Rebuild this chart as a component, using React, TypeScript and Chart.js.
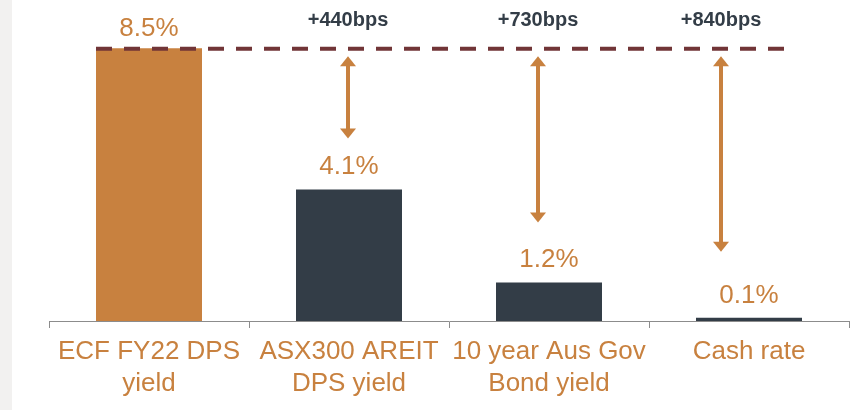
import React, { useEffect, useRef } from "react";
import { Chart, registerables } from "chart.js";

Chart.register(...registerables);

const categories: string[][] = [
  ["ECF FY22 DPS", "yield"],
  ["ASX300 AREIT", "DPS yield"],
  ["10 year Aus Gov", "Bond yield"],
  ["Cash rate"],
];
const values: number[] = [8.5, 4.1, 1.2, 0.1];
const valueLabels: string[] = ["8.5%", "4.1%", "1.2%", "0.1%"];
const spreadLabels: string[] = ["", "+440bps", "+730bps", "+840bps"];
const referenceValue = 8.5;
const yMin = 0;
const yMax = 10;

const ORANGE = "#c8813f";
const DARK = "#333d47";
const MAROON = "#713537";
const FONT = "'Liberation Sans', Arial, sans-serif";

// styling constants for annotations (pixels)
const arrowXOffset = [0, -1, -11, -28];
const arrowBottomGap = [0, 51, 60, 66];

const annotations = {
  id: "annotations",
  afterDatasetsDraw(chart: any) {
    const ctx = chart.ctx;
    const xs = chart.scales.x;
    const ys = chart.scales.y;
    const meta = chart.getDatasetMeta(0);
    const refY = ys.getPixelForValue(referenceValue);
    ctx.save();

    // value labels
    ctx.fillStyle = ORANGE;
    ctx.font = `26px ${FONT}`;
    ctx.textAlign = "center";
    ctx.textBaseline = "alphabetic";
    meta.data.forEach((bar: any, i: number) => {
      ctx.fillText(valueLabels[i], bar.x, bar.y - (i === 0 ? 12 : 15));
    });

    // dashed reference line
    const first = meta.data[0];
    const x0 = first.x - first.width / 2;
    const x1 = xs.getPixelForValue(values.length - 1) + 40;
    ctx.strokeStyle = MAROON;
    ctx.lineWidth = 4;
    ctx.setLineDash([16, 12]);
    ctx.beginPath();
    ctx.moveTo(x0, refY + 0.5);
    ctx.lineTo(x1, refY + 0.5);
    ctx.stroke();
    ctx.setLineDash([]);

    // arrows and spread labels
    for (let i = 1; i < values.length; i++) {
      const bar = meta.data[i];
      const x = xs.getPixelForValue(i) + arrowXOffset[i];
      const top = refY + 8;
      const bottom = bar.y - arrowBottomGap[i];
      const hw = 8;
      const hh = 10;
      ctx.strokeStyle = ORANGE;
      ctx.fillStyle = ORANGE;
      ctx.lineWidth = 4;
      ctx.beginPath();
      ctx.moveTo(x, top + hh - 1);
      ctx.lineTo(x, bottom - hh + 1);
      ctx.stroke();
      ctx.beginPath();
      ctx.moveTo(x, top);
      ctx.lineTo(x - hw, top + hh);
      ctx.lineTo(x + hw, top + hh);
      ctx.closePath();
      ctx.fill();
      ctx.beginPath();
      ctx.moveTo(x, bottom);
      ctx.lineTo(x - hw, bottom - hh);
      ctx.lineTo(x + hw, bottom - hh);
      ctx.closePath();
      ctx.fill();

      ctx.fillStyle = DARK;
      ctx.font = `bold 20px ${FONT}`;
      ctx.textAlign = "center";
      ctx.textBaseline = "alphabetic";
      ctx.fillText(spreadLabels[i], x, 26);
    }
    ctx.restore();
  },
};

export default function App() {
  const ref = useRef<HTMLCanvasElement | null>(null);
  useEffect(() => {
    if (!ref.current) return;
    const chart = new Chart(ref.current, {
      type: "bar",
      data: {
        labels: categories,
        datasets: [
          {
            data: values,
            backgroundColor: [ORANGE, DARK, DARK, DARK],
            borderWidth: 0,
            barPercentage: 0.53,
            categoryPercentage: 1,
          },
        ],
      },
      options: {
        animation: false,
        responsive: true,
        maintainAspectRatio: false,
        layout: { padding: { left: 49, right: 1, top: 0, bottom: 0 } },
        plugins: {
          legend: { display: false },
          tooltip: { enabled: false },
        },
        scales: {
          x: {
            offset: true,
            afterFit: (scale: any) => {
              scale.height = 89;
            },
            grid: {
              display: true,
              offset: true,
              drawOnChartArea: false,
              drawTicks: true,
              tickLength: 7,
              color: "#8c8c8c",
              lineWidth: 1,
            },
            border: { display: true, color: "#8c8c8c", width: 1 },
            ticks: {
              color: ORANGE,
              font: { family: FONT, size: 26, lineHeight: 1.23 },
              padding: 8,
              maxRotation: 0,
              minRotation: 0,
              autoSkip: false,
            },
          },
          y: {
            display: false,
            min: yMin,
            max: yMax,
          },
        },
      },
      plugins: [annotations],
    });
    return () => chart.destroy();
  }, []);
  return (
    <div style={{ position: "fixed", left: 0, top: 0, width: 850, height: 410, background: "#fff" }}>
      <div style={{ position: "absolute", left: 0, top: 0, width: 12, height: 410, background: "#f2f1f0" }} />
      <div style={{ position: "absolute", left: 0, top: 0, width: 850, height: 410 }}>
        <canvas ref={ref} />
      </div>
    </div>
  );
}
